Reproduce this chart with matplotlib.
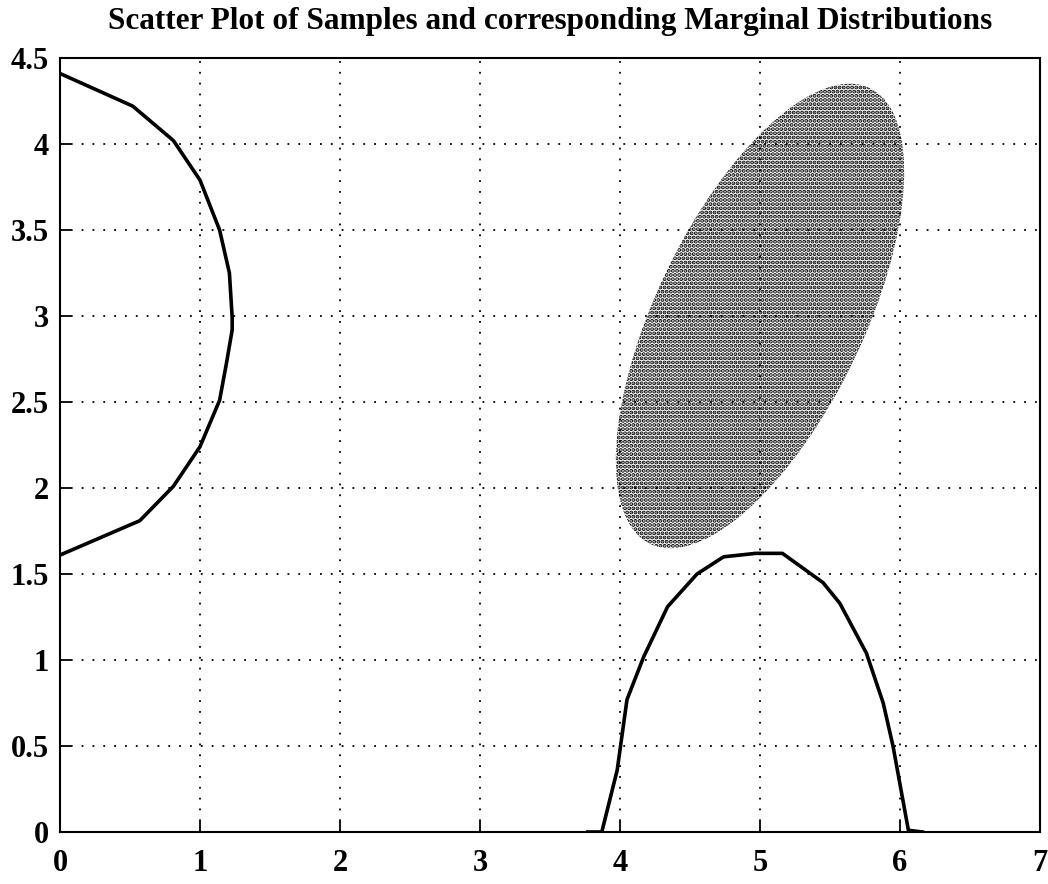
import numpy as np
import matplotlib
matplotlib.use('Agg')
import matplotlib.pyplot as plt
from matplotlib.patches import Ellipse

# marginal of y, drawn sideways along the left axis
ym_density = [0.0, 0.52, 0.81, 1.0, 1.14, 1.21, 1.23, 1.23, 1.19, 1.14, 1.0, 0.81, 0.57, 0.0]
ym_y = [4.41, 4.22, 4.02, 3.79, 3.5, 3.25, 2.99, 2.92, 2.73, 2.51, 2.24, 2.01, 1.81, 1.61]

# marginal of x, drawn along the bottom axis
xm_x = [3.77, 3.87, 3.98, 4.05, 4.17, 4.34, 4.55, 4.74, 4.97, 5.16, 5.45, 5.57, 5.76, 5.88, 5.95, 6.06, 6.16]
xm_density = [0.0, 0.0, 0.36, 0.77, 1.02, 1.31, 1.50, 1.60, 1.62, 1.62, 1.45, 1.33, 1.04, 0.75, 0.50, 0.01, 0.0]

# region covered by the samples (centre, axes, angle in data units)
cloud_center = (5.0, 3.0)
cloud_axes = (3.09, 1.41)
cloud_angle = 56.9

xticks = [0, 1, 2, 3, 4, 5, 6, 7]
yticks = [0, 0.5, 1, 1.5, 2, 2.5, 3, 3.5, 4, 4.5]

plt.rcParams['font.family'] = ['Liberation Serif', 'DejaVu Serif']
plt.rcParams['font.weight'] = 'bold'
plt.rcParams['hatch.linewidth'] = 2.0

fig = plt.figure(figsize=(10.48, 8.84), dpi=100)
ax = fig.add_axes([60 / 1048, 52 / 884, 980 / 1048, 774 / 884])

# stippled cloud of samples
ell = Ellipse(cloud_center, cloud_axes[0], cloud_axes[1], angle=cloud_angle,
              facecolor='white', edgecolor='black', hatch='....', linewidth=0)
ax.add_patch(ell)

ax.plot(ym_density, ym_y, color='black', lw=2.6)
ax.plot(xm_x, xm_density, color='black', lw=2.6)

ax.set_xlim(0, 7)
ax.set_ylim(0, 4.5)
ax.set_xticks(xticks)
ax.set_yticks(yticks)
ax.set_xticklabels([str(t) for t in xticks])
ax.set_yticklabels(['0', '0.5', '1', '1.5', '2', '2.5', '3', '3.5', '4', '4.5'])
ax.tick_params(direction='in', length=8, width=1.3, labelsize=22)
ax.tick_params(axis='x', pad=12)
ax.tick_params(axis='y', pad=8)
ax.grid(True, color='black', linestyle=(0, (1, 5)), linewidth=1.3)
for s in ax.spines.values():
    s.set_linewidth(1.5)

ax.set_title('Scatter Plot of Samples and corresponding Marginal Distributions',
             fontsize=22.5, fontweight='bold', pad=21)

plt.savefig('out.png', dpi=100)
